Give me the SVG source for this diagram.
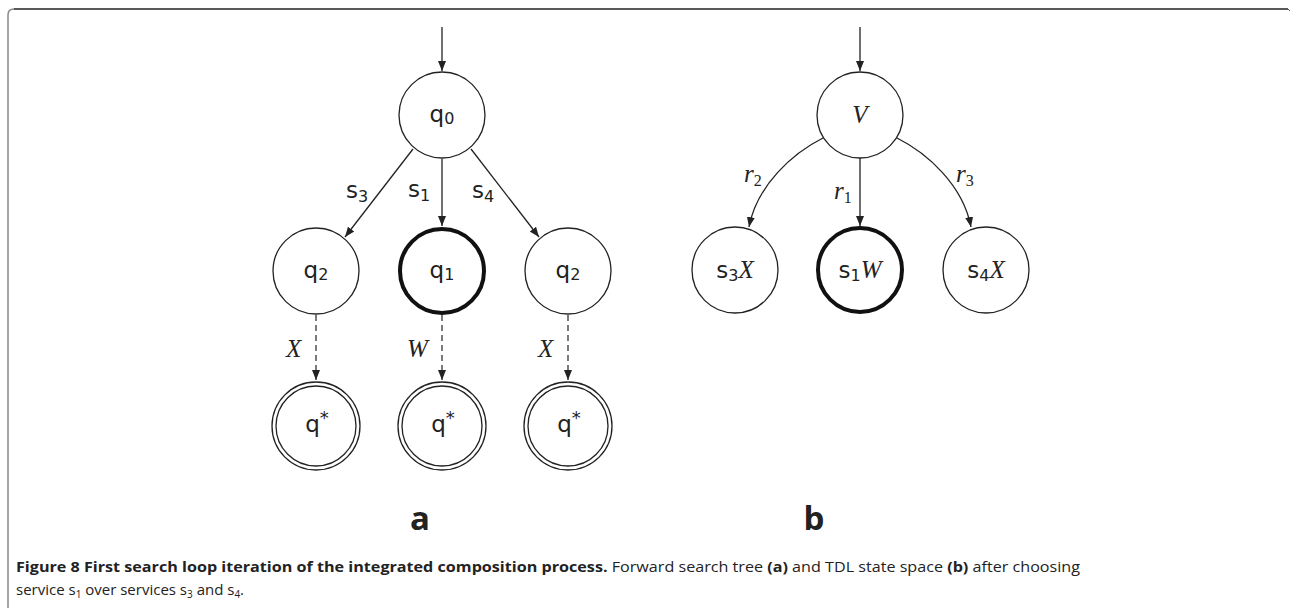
<svg xmlns="http://www.w3.org/2000/svg" width="1292" height="608" viewBox="0 0 1292 608">
  <style>
    .node { fill: #fff; stroke: #222; stroke-width: 1.3; }
    .bold-node { fill: #fff; stroke: #111; stroke-width: 4; }
    .edge { fill: none; stroke: #222; stroke-width: 1.3; }
    .dash { fill: none; stroke: #333; stroke-width: 1.3; stroke-dasharray: 6 4; }
    .sans { font-family: "DejaVu Sans", "Liberation Sans", sans-serif; font-size: 23px; fill: #222; }
    .sub { font-size: 16px; }
    .ital { font-family: "Liberation Serif", "DejaVu Serif", serif; font-style: italic; font-size: 25px; fill: #222; }
    .panel { font-family: "Open Sans", "Liberation Sans", sans-serif; font-weight: bold; font-size: 33px; fill: #222; }
    .cap { font-family: "Open Sans", "Liberation Sans", sans-serif; font-size: 15px; fill: #222; }
    .capb { font-weight: bold; }
  </style>
  <defs>
    <marker id="arrow" viewBox="0 0 10 10" refX="10" refY="5" markerWidth="10" markerHeight="10" markerUnits="userSpaceOnUse" orient="auto">
      <path d="M0,1 L10,5 L0,9 Z" fill="#222"/>
    </marker>
  </defs>

  <!-- frame -->
  <path d="M8,608 L8,15 Q8,9 14,9" fill="none" stroke="#888" stroke-width="1.5"/>
  <path d="M14,9 L1288,9" fill="none" stroke="#222" stroke-width="1.5"/>
  <path d="M1288,9 L1290,11" fill="none" stroke="#555" stroke-width="1"/>

  <!-- connectors -->
  <g id="connectors">
    <!-- panel a -->
    <line class="edge" x1="442" y1="27" x2="442" y2="71" marker-end="url(#arrow)"/>
    <line class="edge" x1="413" y1="149" x2="345" y2="237" marker-end="url(#arrow)"/>
    <line class="edge" x1="442" y1="159" x2="442" y2="226" marker-end="url(#arrow)"/>
    <line class="edge" x1="471" y1="149" x2="539" y2="237" marker-end="url(#arrow)"/>
    <line class="dash" x1="316" y1="315" x2="316" y2="380" marker-end="url(#arrow)"/>
    <line class="dash" x1="442" y1="315" x2="442" y2="380" marker-end="url(#arrow)"/>
    <line class="dash" x1="568" y1="315" x2="568" y2="380" marker-end="url(#arrow)"/>
    <!-- panel b -->
    <line class="edge" x1="860" y1="27" x2="860" y2="71" marker-end="url(#arrow)"/>
    <path class="edge" d="M823,138 C793,153 757,185 749,227" marker-end="url(#arrow)"/>
    <line class="edge" x1="860" y1="158" x2="860" y2="226" marker-end="url(#arrow)"/>
    <path class="edge" d="M897,138 C927,153 963,185 971,227" marker-end="url(#arrow)"/>
  </g>

  <!-- edge labels -->
  <g id="edge-labels">
    <text class="sans" x="346" y="198">s<tspan class="sub" dy="4">3</tspan></text>
    <text class="sans" x="408" y="197">s<tspan class="sub" dy="4">1</tspan></text>
    <text class="sans" x="472" y="198">s<tspan class="sub" dy="4">4</tspan></text>
    <text class="ital" x="286" y="357">X</text>
    <text class="ital" x="407" y="357">W</text>
    <text class="ital" x="538" y="357">X</text>
    <text class="ital" x="744" y="182">r<tspan class="sub" font-style="normal" dy="4">2</tspan></text>
    <text class="ital" x="834" y="199">r<tspan class="sub" font-style="normal" dy="4">1</tspan></text>
    <text class="ital" x="956" y="182">r<tspan class="sub" font-style="normal" dy="4">3</tspan></text>
  </g>

  <!-- panel a nodes -->
  <g id="q0">
    <circle class="node" cx="442" cy="115" r="43"/>
    <text class="sans" x="442" y="122" text-anchor="middle">q<tspan class="sub" dy="2">0</tspan></text>
  </g>
  <g id="q2-left">
    <circle class="node" cx="316" cy="271" r="43"/>
    <text class="sans" x="316" y="278" text-anchor="middle">q<tspan class="sub" dy="2">2</tspan></text>
  </g>
  <g id="q1">
    <circle class="bold-node" cx="442" cy="271" r="42"/>
    <text class="sans" x="442" y="278" text-anchor="middle">q<tspan class="sub" dy="2">1</tspan></text>
  </g>
  <g id="q2-right">
    <circle class="node" cx="568" cy="271" r="43"/>
    <text class="sans" x="568" y="278" text-anchor="middle">q<tspan class="sub" dy="2">2</tspan></text>
  </g>
  <g id="qstar-left">
    <circle class="node" cx="316" cy="426" r="44"/>
    <circle class="node" cx="316" cy="426" r="40"/>
    <text class="sans" x="317" y="432" text-anchor="middle">q<tspan font-size="18" dy="-8">*</tspan></text>
  </g>
  <g id="qstar-mid">
    <circle class="node" cx="442" cy="426" r="44"/>
    <circle class="node" cx="442" cy="426" r="40"/>
    <text class="sans" x="443" y="432" text-anchor="middle">q<tspan font-size="18" dy="-8">*</tspan></text>
  </g>
  <g id="qstar-right">
    <circle class="node" cx="568" cy="426" r="44"/>
    <circle class="node" cx="568" cy="426" r="40"/>
    <text class="sans" x="569" y="432" text-anchor="middle">q<tspan font-size="18" dy="-8">*</tspan></text>
  </g>

  <!-- panel b nodes -->
  <g id="V">
    <circle class="node" cx="860" cy="115" r="43"/>
    <text class="ital" x="860" y="123" text-anchor="middle">V</text>
  </g>
  <g id="s3X">
    <circle class="node" cx="735" cy="270" r="43"/>
    <text x="735" y="278" text-anchor="middle"><tspan class="sans">s</tspan><tspan class="sans sub" dy="3">3</tspan><tspan class="ital" dy="-3">X</tspan></text>
  </g>
  <g id="s1W">
    <circle class="bold-node" cx="860" cy="270" r="42"/>
    <text x="860" y="278" text-anchor="middle"><tspan class="sans">s</tspan><tspan class="sans sub" dy="3">1</tspan><tspan class="ital" dy="-3">W</tspan></text>
  </g>
  <g id="s4X">
    <circle class="node" cx="986" cy="270" r="43"/>
    <text x="986" y="278" text-anchor="middle"><tspan class="sans">s</tspan><tspan class="sans sub" dy="3">4</tspan><tspan class="ital" dy="-3">X</tspan></text>
  </g>

  <!-- panel letters -->
  <text class="panel" x="420" y="530" text-anchor="middle">a</text>
  <text class="panel" x="814" y="530" text-anchor="middle">b</text>

  <!-- caption -->
  <g id="caption">
    <text class="cap" x="16" y="572" textLength="1064" lengthAdjust="spacingAndGlyphs"><tspan class="capb">Figure 8 First search loop iteration of the integrated composition process.</tspan> Forward search tree <tspan class="capb">(a)</tspan> and TDL state space <tspan class="capb">(b)</tspan> after choosing</text>
    <text class="cap" x="16" y="595">service s<tspan font-size="10" dy="3">1</tspan><tspan dy="-3"> over services s</tspan><tspan font-size="10" dy="3">3</tspan><tspan dy="-3"> and s</tspan><tspan font-size="10" dy="3">4</tspan><tspan dy="-3">.</tspan></text>
  </g>
</svg>
